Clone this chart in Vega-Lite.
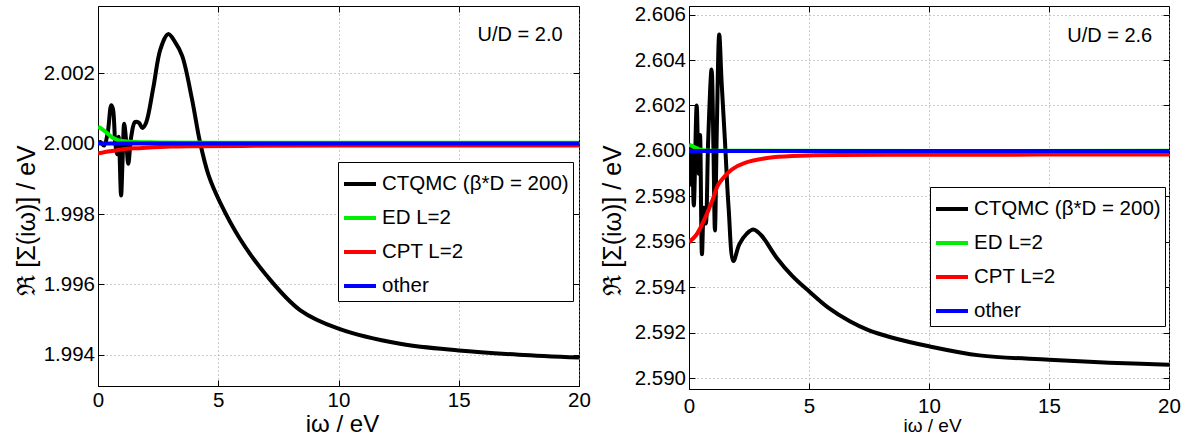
{
  "$schema": "https://vega.github.io/schema/vega-lite/v6.json",
  "padding": {"left": 13, "top": 4, "right": 0, "bottom": 0},
  "background": "white",
  "datasets": {
    "left": [
      {"s": "CTQMC (β*D = 200)", "x": 0, "y": 2.00000},
      {"s": "CTQMC (β*D = 200)", "x": 0.1, "y": 2.00005},
      {"s": "CTQMC (β*D = 200)", "x": 0.25, "y": 1.99995},
      {"s": "CTQMC (β*D = 200)", "x": 0.4, "y": 2.0003},
      {"s": "CTQMC (β*D = 200)", "x": 0.55, "y": 2.0011},
      {"s": "CTQMC (β*D = 200)", "x": 0.62, "y": 2.0010},
      {"s": "CTQMC (β*D = 200)", "x": 0.72, "y": 2.0000},
      {"s": "CTQMC (β*D = 200)", "x": 0.8, "y": 1.9997},
      {"s": "CTQMC (β*D = 200)", "x": 0.86, "y": 2.0002},
      {"s": "CTQMC (β*D = 200)", "x": 0.96, "y": 1.99853},
      {"s": "CTQMC (β*D = 200)", "x": 1.02, "y": 1.9995},
      {"s": "CTQMC (β*D = 200)", "x": 1.09, "y": 2.00057},
      {"s": "CTQMC (β*D = 200)", "x": 1.18, "y": 2.0000},
      {"s": "CTQMC (β*D = 200)", "x": 1.26, "y": 1.99943},
      {"s": "CTQMC (β*D = 200)", "x": 1.38, "y": 2.0002},
      {"s": "CTQMC (β*D = 200)", "x": 1.54, "y": 2.00062},
      {"s": "CTQMC (β*D = 200)", "x": 1.7, "y": 2.0006},
      {"s": "CTQMC (β*D = 200)", "x": 1.85, "y": 2.00045},
      {"s": "CTQMC (β*D = 200)", "x": 2.0, "y": 2.0006},
      {"s": "CTQMC (β*D = 200)", "x": 2.3, "y": 2.0016},
      {"s": "CTQMC (β*D = 200)", "x": 2.6, "y": 2.0027},
      {"s": "CTQMC (β*D = 200)", "x": 2.92, "y": 2.00312},
      {"s": "CTQMC (β*D = 200)", "x": 3.2, "y": 2.0029},
      {"s": "CTQMC (β*D = 200)", "x": 3.5, "y": 2.0025},
      {"s": "CTQMC (β*D = 200)", "x": 3.9, "y": 2.0013},
      {"s": "CTQMC (β*D = 200)", "x": 4.24, "y": 2.00005},
      {"s": "CTQMC (β*D = 200)", "x": 4.6, "y": 1.9991},
      {"s": "CTQMC (β*D = 200)", "x": 5.07, "y": 1.99834},
      {"s": "CTQMC (β*D = 200)", "x": 5.9, "y": 1.99730},
      {"s": "CTQMC (β*D = 200)", "x": 7.0, "y": 1.99626},
      {"s": "CTQMC (β*D = 200)", "x": 8.4, "y": 1.99527},
      {"s": "CTQMC (β*D = 200)", "x": 10, "y": 1.99474},
      {"s": "CTQMC (β*D = 200)", "x": 12.56, "y": 1.99431},
      {"s": "CTQMC (β*D = 200)", "x": 15, "y": 1.99412},
      {"s": "CTQMC (β*D = 200)", "x": 17.5, "y": 1.99400},
      {"s": "CTQMC (β*D = 200)", "x": 20, "y": 1.99392},
      {"s": "ED L=2", "x": 0, "y": 2.00048},
      {"s": "ED L=2", "x": 0.15, "y": 2.00043},
      {"s": "ED L=2", "x": 0.3, "y": 2.00035},
      {"s": "ED L=2", "x": 0.45, "y": 2.00026},
      {"s": "ED L=2", "x": 0.6, "y": 2.00018},
      {"s": "ED L=2", "x": 0.8, "y": 2.00011},
      {"s": "ED L=2", "x": 1.0, "y": 2.00008},
      {"s": "ED L=2", "x": 1.5, "y": 2.00005},
      {"s": "ED L=2", "x": 2.5, "y": 2.00004},
      {"s": "ED L=2", "x": 5, "y": 2.00003},
      {"s": "ED L=2", "x": 20, "y": 2.00003},
      {"s": "CPT L=2", "x": 0, "y": 1.99973},
      {"s": "CPT L=2", "x": 0.5, "y": 1.99979},
      {"s": "CPT L=2", "x": 1, "y": 1.99984},
      {"s": "CPT L=2", "x": 1.5, "y": 1.99987},
      {"s": "CPT L=2", "x": 2, "y": 1.99989},
      {"s": "CPT L=2", "x": 3, "y": 1.99992},
      {"s": "CPT L=2", "x": 4, "y": 1.99993},
      {"s": "CPT L=2", "x": 6, "y": 1.99994},
      {"s": "CPT L=2", "x": 10, "y": 1.99995},
      {"s": "CPT L=2", "x": 20, "y": 1.99995},
      {"s": "other", "x": 0, "y": 2.00001},
      {"s": "other", "x": 20, "y": 2.00001}
    ],
    "right": [
      {"s": "CTQMC (β*D = 200)", "x": 0, "y": 2.6000},
      {"s": "CTQMC (β*D = 200)", "x": 0.08, "y": 2.5985},
      {"s": "CTQMC (β*D = 200)", "x": 0.13, "y": 2.6002},
      {"s": "CTQMC (β*D = 200)", "x": 0.2, "y": 2.5976},
      {"s": "CTQMC (β*D = 200)", "x": 0.32, "y": 2.6020},
      {"s": "CTQMC (β*D = 200)", "x": 0.4, "y": 2.5990},
      {"s": "CTQMC (β*D = 200)", "x": 0.46, "y": 2.6007},
      {"s": "CTQMC (β*D = 200)", "x": 0.54, "y": 2.59545},
      {"s": "CTQMC (β*D = 200)", "x": 0.62, "y": 2.5975},
      {"s": "CTQMC (β*D = 200)", "x": 0.7, "y": 2.5968},
      {"s": "CTQMC (β*D = 200)", "x": 0.8, "y": 2.6005},
      {"s": "CTQMC (β*D = 200)", "x": 0.94, "y": 2.60359},
      {"s": "CTQMC (β*D = 200)", "x": 1.02, "y": 2.6000},
      {"s": "CTQMC (β*D = 200)", "x": 1.08, "y": 2.5965},
      {"s": "CTQMC (β*D = 200)", "x": 1.16, "y": 2.6010},
      {"s": "CTQMC (β*D = 200)", "x": 1.26, "y": 2.60513},
      {"s": "CTQMC (β*D = 200)", "x": 1.36, "y": 2.6030},
      {"s": "CTQMC (β*D = 200)", "x": 1.5, "y": 2.6004},
      {"s": "CTQMC (β*D = 200)", "x": 1.65, "y": 2.5975},
      {"s": "CTQMC (β*D = 200)", "x": 1.85, "y": 2.59515},
      {"s": "CTQMC (β*D = 200)", "x": 2.1, "y": 2.5959},
      {"s": "CTQMC (β*D = 200)", "x": 2.4, "y": 2.59635},
      {"s": "CTQMC (β*D = 200)", "x": 2.68, "y": 2.59654},
      {"s": "CTQMC (β*D = 200)", "x": 3.0, "y": 2.5963},
      {"s": "CTQMC (β*D = 200)", "x": 3.65, "y": 2.5953},
      {"s": "CTQMC (β*D = 200)", "x": 4.3, "y": 2.5945},
      {"s": "CTQMC (β*D = 200)", "x": 5, "y": 2.59382},
      {"s": "CTQMC (β*D = 200)", "x": 5.8, "y": 2.5931},
      {"s": "CTQMC (β*D = 200)", "x": 6.7, "y": 2.5925},
      {"s": "CTQMC (β*D = 200)", "x": 7.5, "y": 2.5921},
      {"s": "CTQMC (β*D = 200)", "x": 8.4, "y": 2.5918},
      {"s": "CTQMC (β*D = 200)", "x": 10, "y": 2.5914},
      {"s": "CTQMC (β*D = 200)", "x": 12.1, "y": 2.5910},
      {"s": "CTQMC (β*D = 200)", "x": 15, "y": 2.59081},
      {"s": "CTQMC (β*D = 200)", "x": 17.5, "y": 2.59068},
      {"s": "CTQMC (β*D = 200)", "x": 20, "y": 2.59059},
      {"s": "ED L=2", "x": 0, "y": 2.60028},
      {"s": "ED L=2", "x": 0.2, "y": 2.60018},
      {"s": "ED L=2", "x": 0.4, "y": 2.60008},
      {"s": "ED L=2", "x": 0.6, "y": 2.60003},
      {"s": "ED L=2", "x": 1, "y": 2.60001},
      {"s": "ED L=2", "x": 20, "y": 2.60001},
      {"s": "CPT L=2", "x": 0, "y": 2.59598},
      {"s": "CPT L=2", "x": 0.3, "y": 2.5963},
      {"s": "CPT L=2", "x": 0.67, "y": 2.59705},
      {"s": "CPT L=2", "x": 1.0, "y": 2.5979},
      {"s": "CPT L=2", "x": 1.22, "y": 2.59852},
      {"s": "CPT L=2", "x": 1.5, "y": 2.5989},
      {"s": "CPT L=2", "x": 1.78, "y": 2.59918},
      {"s": "CPT L=2", "x": 2.33, "y": 2.59947},
      {"s": "CPT L=2", "x": 3.5, "y": 2.59972},
      {"s": "CPT L=2", "x": 5, "y": 2.5998},
      {"s": "CPT L=2", "x": 10, "y": 2.59983},
      {"s": "CPT L=2", "x": 20, "y": 2.59984},
      {"s": "other", "x": 0, "y": 2.6000},
      {"s": "other", "x": 20, "y": 2.6000}
    ],
    "annL": [{"x": 17.55, "y": 2.00309, "label": "U/D = 2.0"}],
    "annR": [{"x": 17.53, "y": 2.60505, "label": "U/D = 2.6"}]
  },
  "hconcat": [
    {
      "width": 481,
      "height": 380,
      "resolve": {"axis": {"x": "independent", "y": "independent"}},
      "layer": [
        {
          "data": {"name": "left"},
          "mark": {"type": "line", "strokeWidth": 4, "clip": true, "interpolate": "catmull-rom"},
          "encoding": {
            "x": {"field": "x", "type": "quantitative",
              "scale": {"domain": [0, 20], "nice": false},
              "axis": {"values": [0, 5, 10, 15, 20], "title": "iω / eV", "titleFontSize": 24, "titleX": 244, "titleY": 38, "titleBaseline": "middle", "labelPadding": 10}},
            "y": {"field": "y", "type": "quantitative",
              "scale": {"domain": [1.99311, 2.00392], "nice": false, "zero": false},
              "axis": {"values": [1.994, 1.996, 1.998, 2.0, 2.002], "format": ".3f", "title": "ℜ  [Σ(iω)] / eV", "titleFontSize": 25, "titleX": -72, "titleY": 214, "titleBaseline": "middle", "titleAlign": "center", "labelPadding": 9.5}},
            "color": {"field": "s", "type": "nominal",
              "scale": {"domain": ["CTQMC (β*D = 200)", "ED L=2", "CPT L=2", "other"], "range": ["#000000", "#00ee00", "#ff0000", "#0000ff"]},
              "legend": {"title": null, "orient": "none", "legendX": 240, "legendY": 156}}
          }
        },
        {
          "data": {"name": "annL"},
          "mark": {"type": "text", "fontSize": 20, "align": "center", "baseline": "middle", "color": "black"},
          "encoding": {
            "x": {"field": "x", "type": "quantitative",
              "axis": {"orient": "top", "values": [0, 5, 10, 15, 20], "labels": false, "title": null, "grid": false, "domain": false}},
            "y": {"field": "y", "type": "quantitative",
              "axis": {"orient": "right", "values": [1.994, 1.996, 1.998, 2.0, 2.002], "labels": false, "title": null, "grid": false, "domain": false}},
            "text": {"field": "label"}
          }
        }
      ]
    },
    {
      "width": 480,
      "height": 383,
      "resolve": {"axis": {"x": "independent", "y": "independent"}},
      "layer": [
        {
          "data": {"name": "right"},
          "mark": {"type": "line", "strokeWidth": 4, "clip": true, "interpolate": "catmull-rom"},
          "encoding": {
            "x": {"field": "x", "type": "quantitative",
              "scale": {"domain": [0, 20], "nice": false},
              "axis": {"values": [0, 5, 10, 15, 20], "title": "iω / eV", "titleFontSize": 19, "titleX": 243, "titleY": 36, "titleBaseline": "middle", "labelPadding": 13}},
            "y": {"field": "y", "type": "quantitative",
              "scale": {"domain": [2.58952, 2.60638], "nice": false, "zero": false},
              "axis": {"values": [2.590, 2.592, 2.594, 2.596, 2.598, 2.600, 2.602, 2.604, 2.606], "format": ".3f", "title": "ℜ  [Σ(iω)] / eV", "titleFontSize": 25, "titleX": -77, "titleY": 214, "titleBaseline": "middle", "titleAlign": "center", "labelPadding": 9.5}},
            "color": {"field": "s", "type": "nominal",
              "scale": {"domain": ["CTQMC (β*D = 200)", "ED L=2", "CPT L=2", "other"], "range": ["#000000", "#00ee00", "#ff0000", "#0000ff"]},
              "legend": {"title": null, "orient": "none", "legendX": 241, "legendY": 181}}
          }
        },
        {
          "data": {"name": "annR"},
          "mark": {"type": "text", "fontSize": 20, "align": "center", "baseline": "middle", "color": "black"},
          "encoding": {
            "x": {"field": "x", "type": "quantitative",
              "axis": {"orient": "top", "values": [0, 5, 10, 15, 20], "labels": false, "title": null, "grid": false, "domain": false}},
            "y": {"field": "y", "type": "quantitative",
              "axis": {"orient": "right", "values": [2.590, 2.592, 2.594, 2.596, 2.598, 2.600, 2.602, 2.604, 2.606], "labels": false, "title": null, "grid": false, "domain": false}},
            "text": {"field": "label"}
          }
        }
      ]
    }
  ],
  "spacing": 110,
  "bounds": "flush",
  "resolve": {"scale": {"color": "independent", "x": "independent", "y": "independent"}, "legend": {"color": "independent"}},
  "config": {
    "font": "Liberation Sans",
    "view": {"stroke": "black", "strokeWidth": 1},
    "axis": {
      "domainColor": "black",
      "tickColor": "black",
      "tickSize": -6,
      "labelFontSize": 20.5,
      "labelColor": "black",
      "labelFlush": false,
      "titleColor": "black",
      "titleFontWeight": "normal",
      "gridColor": "#999999",
      "gridDash": [1, 3],
      "gridWidth": 1
    },
    "legend": {
      "strokeColor": "black",
      "fillColor": "white",
      "padding": 4,
      "symbolType": "stroke",
      "symbolSize": 1024,
      "symbolStrokeWidth": 4,
      "labelFontSize": 20.5,
      "labelColor": "black",
      "labelOffset": 4,
      "rowPadding": 5,
      "labelLimit": 400
    }
  }
}
